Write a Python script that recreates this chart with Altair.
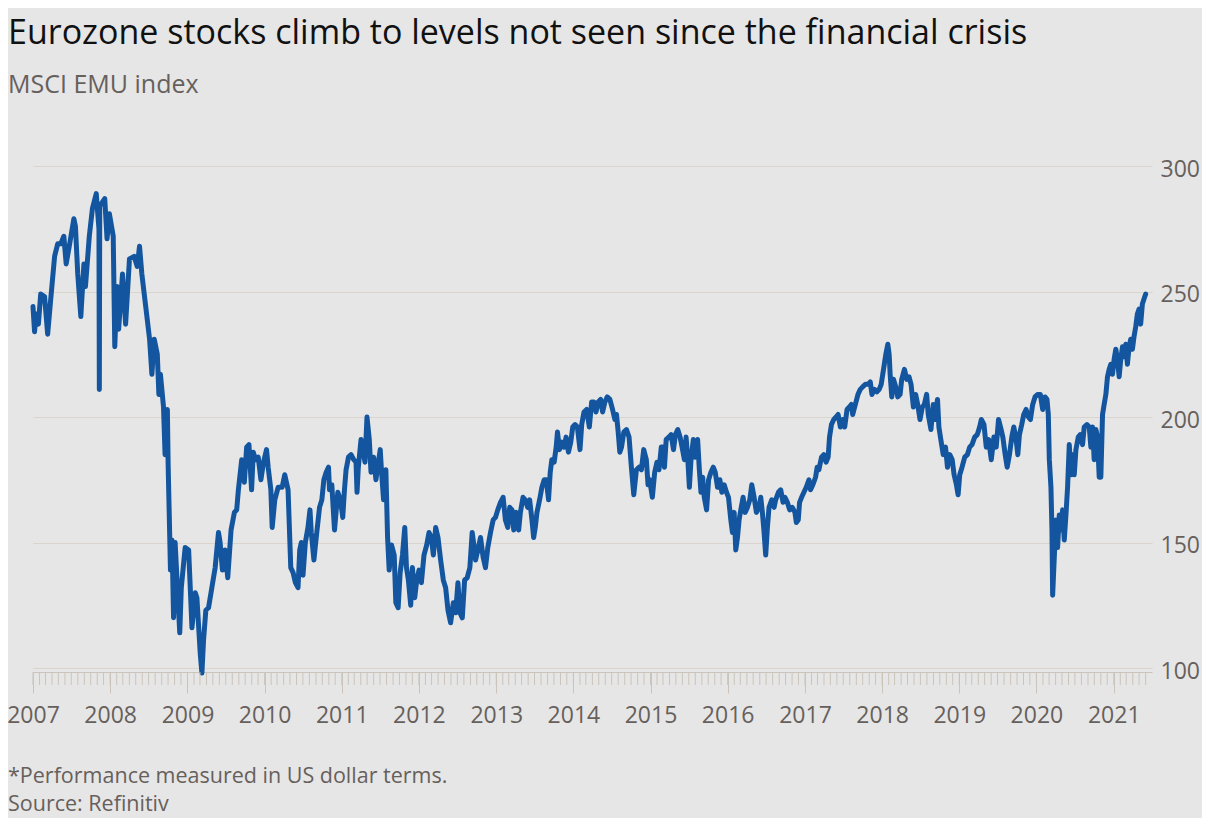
import altair as alt
import pandas as pd

TITLE = "Eurozone stocks climb to levels not seen since the financial crisis"
SUBTITLE = "MSCI EMU index"
NOTE = "*Performance measured in US dollar terms."
SOURCE = "Source: Refinitiv"

Y_TICKS = [100, 150, 200, 250, 300]
X_YEARS = list(range(2007, 2022))

# Decimal-year positions and MSCI EMU index values
t_2007_08 = [2007.00, 2007.02, 2007.04, 2007.07, 2007.10, 2007.15, 2007.19, 2007.23, 2007.28, 2007.32,
             2007.36, 2007.40, 2007.43, 2007.47, 2007.53, 2007.55, 2007.58, 2007.62, 2007.66, 2007.68,
             2007.73, 2007.77, 2007.82, 2007.855, 2007.86, 2007.865, 2007.93, 2007.96, 2007.99, 2008.04,
             2008.06, 2008.09, 2008.11, 2008.16, 2008.20, 2008.25, 2008.31, 2008.35, 2008.38, 2008.41,
             2008.46, 2008.51, 2008.54, 2008.57, 2008.61, 2008.63, 2008.65, 2008.69, 2008.71, 2008.74,
             2008.75, 2008.78, 2008.80, 2008.82, 2008.84, 2008.90, 2008.92, 2008.97]
v_2007_08 = [244, 234, 241, 237, 249, 248, 233, 247, 264, 269,
             269, 272, 261, 268, 279, 276, 257, 240, 261, 252,
             272, 283, 289, 275, 211, 284, 287, 271, 281, 272,
             228, 252, 235, 257, 237, 263, 264, 260, 268, 257,
             244, 231, 217, 231, 225, 209, 217, 204, 185, 203,
             181, 139, 151, 120, 150, 114, 132, 148]

t_2009_10 = [2009.015, 2009.036, 2009.058, 2009.101, 2009.122, 2009.165, 2009.187, 2009.208, 2009.238, 2009.273,
             2009.316, 2009.359, 2009.402, 2009.423, 2009.453, 2009.488, 2009.522, 2009.565, 2009.608, 2009.638,
             2009.660, 2009.703, 2009.737, 2009.767, 2009.797, 2009.831, 2009.853, 2009.883, 2009.917, 2009.952,
             2009.986, 2010.025, 2010.046, 2010.081, 2010.098, 2010.132, 2010.175, 2010.227, 2010.261, 2010.304,
             2010.339, 2010.369, 2010.399, 2010.433, 2010.455, 2010.476, 2010.498, 2010.528, 2010.562, 2010.588,
             2010.605, 2010.639, 2010.669, 2010.712, 2010.742, 2010.768, 2010.798, 2010.828, 2010.841, 2010.871,
             2010.906, 2010.949, 2010.983]
v_2009_10 = [147, 132, 116, 130, 128, 106, 98, 111, 123, 124,
             132, 140, 154, 150, 139, 147, 136, 155, 162, 163,
             171, 183, 174, 188, 189, 171, 186, 183, 184, 175,
             182, 187, 180, 171, 156, 167, 172, 172, 177, 171,
             140, 138, 134, 132, 147, 150, 137, 150, 156, 163,
             154, 143, 152, 164, 167, 175, 178, 180, 171, 173,
             155, 170, 167]

t_2011_12 = [2011.013, 2011.035, 2011.056, 2011.087, 2011.121, 2011.155, 2011.185, 2011.198, 2011.215, 2011.250,
             2011.271, 2011.301, 2011.327, 2011.357, 2011.379, 2011.413, 2011.443, 2011.465, 2011.499, 2011.516,
             2011.542, 2011.572, 2011.594, 2011.615, 2011.645, 2011.680, 2011.701, 2011.731, 2011.757, 2011.787,
             2011.817, 2011.839, 2011.864, 2011.894, 2011.916, 2011.946, 2011.972, 2012.002, 2012.032, 2012.066,
             2012.101, 2012.131, 2012.161, 2012.187, 2012.217, 2012.247, 2012.281, 2012.316, 2012.346, 2012.376,
             2012.410, 2012.445, 2012.475, 2012.505, 2012.530, 2012.561, 2012.591, 2012.625, 2012.659, 2012.689,
             2012.711, 2012.732, 2012.763, 2012.797, 2012.831, 2012.861, 2012.891, 2012.926, 2012.960, 2012.990]
v_2011_12 = [160, 171, 179, 184, 185, 183, 182, 170, 180, 191,
             188, 182, 200, 191, 178, 184, 175, 180, 187, 178,
             167, 179, 152, 139, 149, 145, 126, 124, 138, 145,
             156, 140, 135, 125, 140, 128, 135, 139, 134, 145,
             149, 154, 152, 145, 156, 152, 143, 135, 132, 123,
             118, 126, 122, 134, 122, 120, 135, 136, 140, 154,
             149, 143, 147, 152, 144, 140, 148, 154, 159, 160]

t_2013_14 = [2013.020, 2013.055, 2013.089, 2013.119, 2013.150, 2013.175, 2013.205, 2013.227, 2013.261, 2013.291,
             2013.313, 2013.347, 2013.377, 2013.407, 2013.433, 2013.463, 2013.485, 2013.506, 2013.528, 2013.562,
             2013.592, 2013.622, 2013.648, 2013.678, 2013.700, 2013.721, 2013.751, 2013.777, 2013.794, 2013.820,
             2013.850, 2013.880, 2013.906, 2013.936, 2013.966, 2013.992, 2014.022, 2014.052, 2014.086, 2014.108,
             2014.138, 2014.172, 2014.207, 2014.237, 2014.267, 2014.293, 2014.323, 2014.353, 2014.379, 2014.409,
             2014.439, 2014.473, 2014.508, 2014.538, 2014.559, 2014.581, 2014.602, 2014.624, 2014.654, 2014.688,
             2014.722, 2014.752, 2014.783, 2014.817, 2014.851, 2014.882, 2014.912, 2014.946, 2014.968, 2014.989]
v_2013_14 = [163, 166, 168, 159, 156, 164, 163, 155, 162, 155,
             162, 168, 167, 164, 167, 159, 152, 156, 162, 167,
             172, 175, 175, 167, 178, 183, 182, 188, 194, 187,
             190, 188, 192, 186, 190, 196, 197, 196, 187, 197,
             202, 203, 196, 206, 206, 202, 206, 207, 202, 206,
             208, 207, 203, 199, 201, 194, 186, 188, 194, 195,
             192, 180, 169, 179, 180, 179, 187, 183, 173, 175]

t_2015_16 = [2015.024, 2015.054, 2015.084, 2015.110, 2015.140, 2015.160, 2015.181, 2015.203, 2015.237, 2015.267,
             2015.298, 2015.323, 2015.353, 2015.383, 2015.409, 2015.439, 2015.461, 2015.482, 2015.504, 2015.525,
             2015.555, 2015.581, 2015.611, 2015.633, 2015.654, 2015.676, 2015.697, 2015.727, 2015.753, 2015.783,
             2015.813, 2015.839, 2015.869, 2015.899, 2015.925, 2015.955, 2015.985, 2016.011, 2016.041, 2016.062,
             2016.084, 2016.105, 2016.127, 2016.148, 2016.170, 2016.200, 2016.226, 2016.256, 2016.286, 2016.312,
             2016.342, 2016.372, 2016.406, 2016.428, 2016.449, 2016.471, 2016.492, 2016.514, 2016.535, 2016.570,
             2016.600, 2016.621, 2016.656, 2016.686, 2016.716, 2016.741, 2016.772, 2016.802, 2016.836, 2016.870,
             2016.888, 2016.913, 2016.930, 2016.956, 2016.986]
v_2015_16 = [168, 178, 182, 179, 188, 188, 180, 191, 192, 193,
             187, 193, 195, 192, 188, 183, 192, 184, 172, 183,
             191, 184, 191, 179, 170, 176, 168, 163, 175, 178,
             180, 178, 172, 175, 170, 173, 170, 168, 159, 154,
             162, 147, 152, 159, 163, 168, 162, 164, 167, 173,
             168, 162, 164, 168, 162, 154, 145, 156, 164, 167,
             164, 167, 170, 171, 166, 168, 166, 163, 164, 162,
             158, 159, 166, 168, 170]

t_2017_18 = [2017.016, 2017.051, 2017.072, 2017.102, 2017.137, 2017.158, 2017.180, 2017.214, 2017.244, 2017.274,
             2017.300, 2017.318, 2017.343, 2017.373, 2017.403, 2017.429, 2017.459, 2017.489, 2017.515, 2017.545,
             2017.575, 2017.601, 2017.618, 2017.653, 2017.687, 2017.717, 2017.747, 2017.782, 2017.816, 2017.846,
             2017.868, 2017.902, 2017.932, 2017.962, 2017.988, 2018.018, 2018.048, 2018.074, 2018.091, 2018.104,
             2018.125, 2018.147, 2018.177, 2018.203, 2018.233, 2018.254, 2018.289, 2018.319, 2018.349, 2018.375,
             2018.405, 2018.435, 2018.461, 2018.491, 2018.521, 2018.547, 2018.577, 2018.598, 2018.633, 2018.663,
             2018.684, 2018.718, 2018.736, 2018.761, 2018.792, 2018.822, 2018.847, 2018.877, 2018.908, 2018.933,
             2018.963, 2018.985]
v_2017_18 = [172, 175, 171, 173, 176, 180, 179, 184, 185, 182,
             184, 192, 197, 199, 200, 201, 196, 199, 196, 203,
             204, 205, 201, 205, 209, 211, 212, 213, 213, 214,
             209, 211, 210, 211, 213, 219, 225, 229, 225, 217,
             208, 215, 212, 208, 209, 215, 219, 215, 216, 213,
             204, 209, 205, 199, 204, 205, 209, 201, 195, 205,
             199, 207, 196, 191, 185, 188, 180, 185, 183, 177,
             173, 169]

t_2019_21 = [2019.006, 2019.036, 2019.071, 2019.105, 2019.135, 2019.165, 2019.200, 2019.234, 2019.264, 2019.286,
             2019.320, 2019.350, 2019.381, 2019.415, 2019.449, 2019.479, 2019.509, 2019.535, 2019.565, 2019.595,
             2019.621, 2019.651, 2019.681, 2019.707, 2019.737, 2019.759, 2019.780, 2019.810, 2019.836, 2019.866,
             2019.896, 2019.922, 2019.952, 2019.982, 2020.017, 2020.051, 2020.081, 2020.111, 2020.137, 2020.154,
             2020.167, 2020.188, 2020.201, 2020.210, 2020.231, 2020.253, 2020.274, 2020.296, 2020.317, 2020.339,
             2020.360, 2020.382, 2020.403, 2020.425, 2020.446, 2020.468, 2020.489, 2020.511, 2020.541, 2020.567,
             2020.597, 2020.618, 2020.653, 2020.683, 2020.704, 2020.726, 2020.747, 2020.769, 2020.790, 2020.812,
             2020.833, 2020.855, 2020.876, 2020.898, 2020.919, 2020.941, 2020.962, 2020.984, 2021.005, 2021.027,
             2021.048, 2021.070, 2021.091, 2021.113, 2021.134, 2021.156, 2021.177, 2021.199, 2021.220, 2021.242,
             2021.263, 2021.285, 2021.306, 2021.328, 2021.349, 2021.371, 2021.392, 2021.414]
v_2019_21 = [177, 180, 184, 185, 188, 189, 192, 193, 196, 199,
             197, 188, 191, 183, 192, 188, 199, 196, 192, 185,
             180, 185, 192, 196, 191, 185, 193, 197, 201, 203,
             200, 199, 205, 208, 209, 209, 203, 208, 207, 201,
             183, 172, 155, 129, 144, 159, 148, 161, 155, 163,
             151, 161, 172, 189, 177, 185, 177, 187, 192, 193,
             189, 196, 197, 196, 188, 196, 183, 195, 192, 176,
             176, 201, 205, 209, 216, 219, 221, 217, 223, 227,
             223, 216, 223, 228, 224, 229, 221, 228, 231, 227,
             232, 236, 241, 243, 237, 245, 247, 249]

segments = [(t_2007_08, v_2007_08), (t_2009_10, v_2009_10), (t_2011_12, v_2011_12),
            (t_2013_14, v_2013_14), (t_2015_16, v_2015_16), (t_2017_18, v_2017_18),
            (t_2019_21, v_2019_21)]


def to_timestamp(y):
    yr = int(y)
    start = pd.Timestamp(year=yr, month=1, day=1)
    end = pd.Timestamp(year=yr + 1, month=1, day=1)
    return start + (end - start) * (y - yr)


dates, values = [], []
for ts, vs in segments:
    n = min(len(ts), len(vs))
    dates += [to_timestamp(t) for t in ts[:n]]
    values += vs[:n]

df = pd.DataFrame({"date": dates, "value": values})
months = pd.DataFrame({"date": pd.date_range("2007-01-01", "2021-06-01", freq="MS")})
notes = pd.DataFrame({"note": [NOTE + "\n" + SOURCE]})

FONT = "Open Sans"
GREY = "#66605c"
TICK = "#cbc4ba"
GRID = "#d9d4ce"
BLUE = "#13569f"
BG = "#e6e6e6"

W, H = 1119, 502

x_scale = alt.Scale(domain=[alt.DateTime(year=2007, month=1, date=1),
                            alt.DateTime(year=2021, month=7, date=1)])

x_axis = alt.Axis(values=[alt.DateTime(year=y, month=1, date=1) for y in X_YEARS],
                  format="%Y", title=None, grid=False,
                  tickSize=21, tickColor=TICK, tickWidth=1,
                  domain=True, domainColor=TICK, offset=4,
                  labelFont=FONT, labelFontSize=23, labelColor=GREY,
                  labelPadding=11, labelFlush=False, labelOverlap=False)

line = alt.Chart(df).mark_line(color=BLUE, strokeWidth=5, strokeJoin="round", strokeCap="round").encode(
    x=alt.X("date:T", scale=x_scale, axis=x_axis),
    y=alt.Y("value:Q", scale=alt.Scale(domain=[100, 300], nice=False, zero=False),
            axis=alt.Axis(orient="right", values=Y_TICKS, title=None, ticks=False, domain=False,
                          grid=True, gridColor=GRID, gridWidth=1,
                          labelFont=FONT, labelFontSize=23, labelColor=GREY,
                          labelPadding=8, labelAlign="left", labelOffset=3)),
)

month_ticks = alt.Chart(months).mark_rule(color=TICK, strokeWidth=1).encode(
    x=alt.X("date:T", scale=x_scale, axis=x_axis),
    y=alt.value(H + 4),
    y2=alt.value(H + 17),
)

footer = alt.Chart(notes).mark_text(align="left", baseline="alphabetic", lineBreak="\n",
                                    lineHeight=28, font=FONT, fontSize=21.5, color=GREY).encode(
    x=alt.value(-25),
    y=alt.value(617),
    text="note:N",
)

chart = alt.layer(line, month_ticks, footer).properties(
    width=W,
    height=H,
    autosize=alt.AutoSizeParams(type="none"),
    padding={"left": 25, "top": 158, "right": 50, "bottom": 150},
    background=BG,
    title=alt.TitleParams(
        text=TITLE, subtitle=SUBTITLE, anchor="start", frame="group", dx=-25,
        font=FONT, fontSize=34, fontWeight="normal", color="#111111",
        subtitleFont=FONT, subtitleFontSize=25, subtitleColor=GREY,
        subtitlePadding=22, offset=60,
    ),
).configure_view(stroke=None)

chart.save("out.html", embed_options={"renderer": "svg", "actions": False})
